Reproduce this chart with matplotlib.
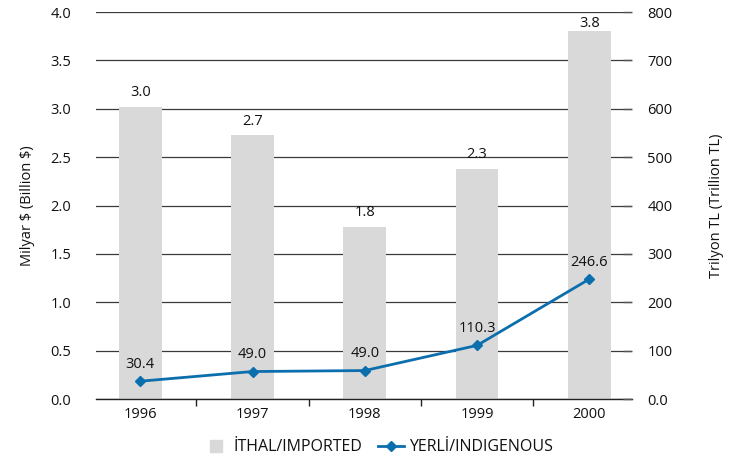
import numpy as np
import matplotlib
matplotlib.use('Agg')
import matplotlib.pyplot as plt
from matplotlib.lines import Line2D

plt.rcParams['font.family'] = ['Open Sans', 'DejaVu Sans']
plt.rcParams['font.size'] = 10.5

years = ['1996', '1997', '1998', '1999', '2000']
imported = [3.02, 2.73, 1.78, 2.38, 3.80]
imported_labels = ['3.0', '2.7', '1.8', '2.3', '3.8']
indigenous = [37, 57, 59, 111, 248]
indigenous_labels = ['30.4', '49.0', '49.0', '110.3', '246.6']

bar_color = '#d9d9d9'
line_color = '#0b6fad'
text_color = '#111111'

fig = plt.figure(figsize=(7.34, 4.63), dpi=100)
ax = fig.add_axes([0.131, 0.138, 0.730, 0.836])
x = np.arange(len(years))

ax.bar(x, imported, width=0.38, color=bar_color, zorder=2)
for xi, v, t in zip(x, imported, imported_labels):
    off = 6 if v > 3.5 else 10
    ax.annotate(t, (xi, v), xytext=(0, off), textcoords='offset points',
                ha='center', va='center', color=text_color, zorder=5)

ax.set_ylim(0, 4.0)
ax.set_yticks(np.arange(0, 4.01, 0.5))
ax.set_yticklabels([f'{v:.1f}' for v in np.arange(0, 4.01, 0.5)])
ax.set_xlim(-0.393, 4.38)
ax.set_xticks(x)
ax.set_xticklabels(years)
ax.set_xticks(x[:-1] + 0.5, minor=True)
ax.tick_params(axis='x', which='major', length=0, pad=6)
ax.tick_params(axis='x', which='minor', length=5, width=1, color='#222222', direction='out')
ax.tick_params(axis='y', length=0, pad=18)
ax.tick_params(colors=text_color, which='major')
ax.yaxis.grid(True, color='#3a3a3a', lw=0.9)
ax.set_axisbelow(True)
for s in ['left', 'right', 'top']:
    ax.spines[s].set_visible(False)
ax.spines['bottom'].set_color('#222222')
ax.spines['bottom'].set_linewidth(1)
ax.set_ylabel(r'Milyar \$ (Billion \$)', labelpad=11, color=text_color)

ax2 = ax.twinx()
ax2.plot(x, indigenous, '-D', color=line_color, lw=2, markersize=5.5, zorder=4)
for xi, v, t in zip(x, indigenous, indigenous_labels):
    ax2.annotate(t, (xi, v), xytext=(0, 12), textcoords='offset points',
                 ha='center', va='center', color=text_color)
ax2.set_ylim(0, 800)
ax2.set_yticks(np.arange(0, 801, 100))
ax2.set_yticklabels(['0.0'] + [str(v) for v in range(100, 801, 100)])
ax2.tick_params(axis='y', direction='in', length=6.5, width=1, color='#555555',
                pad=11, labelcolor=text_color)
for s in ax2.spines.values():
    s.set_visible(False)
ax2.set_ylabel('Trilyon TL (Trillion TL)', labelpad=26, color=text_color)

handles = [Line2D([], [], marker='s', color=bar_color, ls='none', markersize=9),
           Line2D([], [], marker='D', color=line_color, lw=2, markersize=5.5)]
fig.legend(handles, ['İTHAL/IMPORTED', 'YERLİ/INDIGENOUS'], loc='lower center', ncol=2,
           frameon=False, bbox_to_anchor=(0.515, -0.014), handlelength=1.6,
           columnspacing=1.0, handletextpad=0.3, labelcolor=text_color, fontsize=11.5)

fig.savefig('out.png', dpi=100)
